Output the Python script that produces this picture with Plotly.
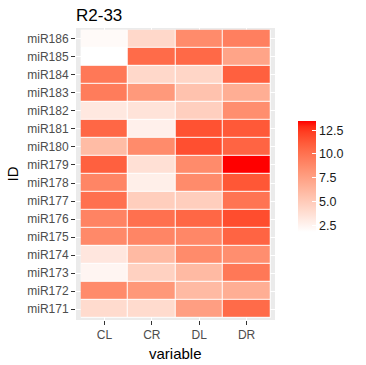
import plotly.graph_objects as go

variables = ["CL", "CR", "DL", "DR"]
ids = ["miR171", "miR172", "miR173", "miR174", "miR175", "miR176", "miR177", "miR178",
       "miR179", "miR180", "miR181", "miR182", "miR183", "miR184", "miR185", "miR186"]

CL = [4.0, 8.7, 2.4, 3.3, 8.8, 9.1, 10.1, 9.0, 10.9, 5.9, 10.6, 3.2, 9.5, 9.7, 1.8, 2.1]
CR = [4.0, 8.0, 4.6, 6.0, 9.0, 10.1, 4.8, 2.8, 3.7, 8.7, 2.7, 3.5, 7.9, 4.2, 10.4, 4.2]
DL = [7.6, 6.0, 6.0, 8.7, 8.9, 10.6, 4.8, 8.7, 8.7, 11.6, 11.5, 4.7, 5.5, 4.3, 10.5, 8.7]
DR = [10.4, 6.7, 9.7, 8.5, 10.7, 11.7, 9.9, 11.3, 13.45, 10.7, 11.2, 8.5, 6.7, 10.9, 7.3, 9.3]

colorbar_ticks = [2.5, 5.0, 7.5, 10.0, 12.5]

z = [[CL[i], CR[i], DL[i], DR[i]] for i in range(len(ids))]


# Lab interpolation white -> red (like ggplot2 scale_fill_gradient)
def srgb_to_lin(c):
    c = c / 255.0
    return c / 12.92 if c <= 0.04045 else ((c + 0.055) / 1.055) ** 2.4


def lin_to_srgb(c):
    c = max(0.0, min(1.0, c))
    v = 12.92 * c if c <= 0.0031308 else 1.055 * c ** (1 / 2.4) - 0.055
    return round(max(0, min(255, v * 255)))


WX, WY, WZ = 0.95047, 1.0, 1.08883


def f(t):
    return t ** (1 / 3) if t > 0.008856 else 7.787 * t + 16 / 116


def finv(t):
    return t ** 3 if t ** 3 > 0.008856 else (t - 16 / 116) / 7.787


def rgb_to_lab(rgb):
    r, g, b = [srgb_to_lin(c) for c in rgb]
    X = 0.4124 * r + 0.3576 * g + 0.1805 * b
    Y = 0.2126 * r + 0.7152 * g + 0.0722 * b
    Z = 0.0193 * r + 0.1192 * g + 0.9505 * b
    fx, fy, fz = f(X / WX), f(Y / WY), f(Z / WZ)
    return (116 * fy - 16, 500 * (fx - fy), 200 * (fy - fz))


def lab_to_rgb(lab):
    L, a, b = lab
    fy = (L + 16) / 116
    fx = fy + a / 500
    fz = fy - b / 200
    X, Y, Z = WX * finv(fx), WY * finv(fy), WZ * finv(fz)
    r = 3.2406 * X - 1.5372 * Y - 0.4986 * Z
    g = -0.9689 * X + 1.8758 * Y + 0.0415 * Z
    bb = 0.0557 * X - 0.2040 * Y + 1.0570 * Z
    return (lin_to_srgb(r), lin_to_srgb(g), lin_to_srgb(bb))


lo = rgb_to_lab((255, 255, 255))
hi = rgb_to_lab((255, 0, 0))
n = 20
colorscale = []
for k in range(n + 1):
    t = k / n
    lab = tuple(lo[j] + (hi[j] - lo[j]) * t for j in range(3))
    r, g, b = lab_to_rgb(lab)
    colorscale.append([t, f"rgb({r},{g},{b})"])

font_family = "Liberation Sans, Arial, sans-serif"

fig = go.Figure()
# white underlay so tile borders appear white
fig.add_trace(go.Heatmap(
    x=variables, y=ids, z=[[1] * len(variables) for _ in ids],
    colorscale=[[0, "white"], [1, "white"]], showscale=False, hoverinfo="skip",
))
fig.add_trace(go.Heatmap(
    x=variables, y=ids, z=z, colorscale=colorscale, xgap=1, ygap=1,
    colorbar=dict(
        x=1.116, xanchor="left", y=0.491, yanchor="middle",
        thickness=18, len=111, lenmode="pixels", ypad=0, xpad=0,
        outlinewidth=0, tickvals=colorbar_ticks, tickformat=".1f",
        ticks="inside", ticklen=4, tickcolor="white", tickwidth=1,
        tickfont=dict(family=font_family, size=12.5, color="#1a1a1a"),
    ),
))

fig.update_layout(
    width=366, height=365,
    margin=dict(l=76, r=91, t=28, b=45),
    paper_bgcolor="white", plot_bgcolor="#EBEBEB",
    font=dict(family=font_family),
    title=dict(text="R2-33", x=0, xref="paper", xanchor="left",
               y=1 - 15 / 365, yanchor="middle",
               font=dict(size=17, color="black", family=font_family)),
    xaxis=dict(
        type="category", categoryorder="array", categoryarray=variables,
        range=[-0.6, 3.6], showgrid=True, gridcolor="white", gridwidth=1,
        zeroline=False, showline=False, ticks="outside", ticklen=4,
        tickcolor="#333333", tickwidth=1,
        tickfont=dict(size=12, color="#4D4D4D"),
    ),
    yaxis=dict(
        type="category", categoryorder="array", categoryarray=ids,
        range=[-0.6, 15.6], showgrid=True, gridcolor="white", gridwidth=1,
        zeroline=False, showline=False, ticks="outside", ticklen=4,
        tickcolor="#333333", tickwidth=1,
        tickfont=dict(size=12, color="#4D4D4D"),
        title=dict(text="ID", font=dict(size=15, color="black"), standoff=4),
    ),
    annotations=[dict(
        text="variable", xref="paper", yref="paper", x=0.5, y=0,
        xanchor="center", yanchor="middle", yshift=-33, showarrow=False,
        font=dict(size=15, color="black", family=font_family),
    )],
)

fig.write_html("out.html")
